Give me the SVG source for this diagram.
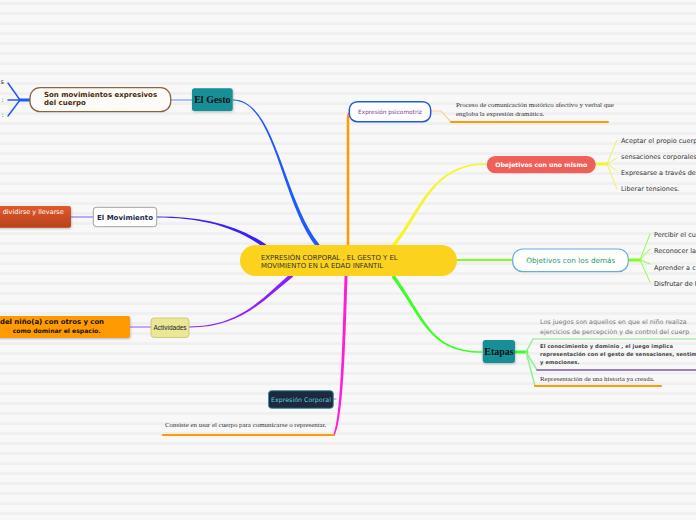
<svg xmlns="http://www.w3.org/2000/svg" width="696" height="520" viewBox="0 0 696 520">
<defs>
<pattern id="bg" width="10" height="10" patternUnits="userSpaceOnUse" y="2">
<rect width="10" height="10" fill="#f8f8f8"/>
<rect width="10" height="3" fill="#f0f0f0"/>
</pattern>
<linearGradient id="red" x1="0" y1="0" x2="0" y2="1">
<stop offset="0" stop-color="#e05a2c"/>
<stop offset="1" stop-color="#b8421c"/>
</linearGradient>
<filter id="sh" x="-10%" y="-20%" width="120%" height="150%">
<feDropShadow dx="0.5" dy="1" stdDeviation="0.8" flood-color="#000" flood-opacity="0.25"/>
</filter>
</defs>
<style>
.s{font-family:"DejaVu Sans",Verdana,sans-serif}
.sr{font-family:"Liberation Serif","Times New Roman",serif}
.ar{font-family:"Liberation Sans",Arial,sans-serif}
.it{font-size:6.5px;fill:#333}
.ln{fill:none;stroke-linecap:round}
</style>
<rect width="696" height="520" fill="url(#bg)"/>

<g id="connectors">
<path d="M233,99.4 C275.5,99.2 283.2,199.1 319.6,244.8 L316.4,247.2 C280.8,200.9 274.5,100.8 233,100.6 Z" fill="#1f5aff"/>
<path d="M157,216.5 C200,216.3 235.7,224.1 266.2,244.4 L263.9,247.6 C234.3,225.9 200,217.7 157,217.5 Z" fill="#3a1fff"/>
<path d="M189,326.5 C240,326.3 261.2,299.1 290.7,273.5 L293.3,276.5 C262.8,300.9 240,327.7 189,327.5 Z" fill="#8a1fff"/>
<path d="M394.3,247.2 C421.2,216 430.5,164.8 486,164.8 L486,163.3 C429.5,163.2 418.8,214 391.7,244.9 Z" fill="#f5f52a"/>
<path d="M394.4,275 C426.2,319.2 430.5,351.2 482,351.3 L482,352.8 C429.5,352.8 423.8,320.8 391.6,277 Z" fill="#3cff28"/>
<path d="M347.5,276 C345.5,340 343.3,420 334.7,435.3 L333.3,434.7 C340.7,420 342.5,340 344.5,276 Z" fill="#ff1ed2"/>
<path class="ln" d="M348,246 L348,118 Q348,113 351,112" stroke="#ff9a00" stroke-width="2.5"/>
<path class="ln" d="M457,260 L513,260" stroke="#80ff1a" stroke-width="2"/>

<path class="ln" d="M171,100 L192,100" stroke="#a8c0ff" stroke-width="2"/>
<path class="ln" d="M71,217 L93,217" stroke="#b8a8ff" stroke-width="2"/>
<path class="ln" d="M130,327 L151,327" stroke="#c8a4ff" stroke-width="2"/>
<path class="ln" d="M333,399 L336,399" stroke="#c8a0e8" stroke-width="1.5"/>
<path class="ln" d="M430,111 L441,111 L451,122" stroke="#ffd090" stroke-width="1.2"/>

<path class="ln" d="M20,100 L30,100" stroke="#1f5aff" stroke-width="3"/>
<path class="ln" d="M20,100 L8,83 M20,100 L8,100 M20,100 L8,116" stroke="#1f5aff" stroke-width="1.5"/>

<path class="ln" d="M596,164 L607,164" stroke="#f5f52a" stroke-width="3"/>
<path class="ln" d="M607,164 L617,140 M607,164 L617,158 M607,164 L617,171 M607,164 L617,189" stroke="#f0f060" stroke-width="1"/>

<path class="ln" d="M628,260 L640,260" stroke="#80ff1a" stroke-width="3"/>
<path class="ln" d="M640,260 L650,234 M640,260 L650,249 M640,260 L650,264 M640,260 L650,282" stroke="#90ff40" stroke-width="1"/>

<path class="ln" d="M515,352 L527,352" stroke="#3cff28" stroke-width="3"/>
<path class="ln" d="M526,352 L533,339 M526,352 L537,370 M526,352 L535,386" stroke="#90f090" stroke-width="1.5"/>

<path class="ln" d="M451,122 L608,122" stroke="#ff9a00" stroke-width="2"/>
<path class="ln" d="M163,435 L334,435" stroke="#ff9a00" stroke-width="2"/>
<path class="ln" d="M533,339 L696,339" stroke="#b0ecb0" stroke-width="1.5"/>
<path class="ln" d="M537,370 L696,370" stroke="#7a58a8" stroke-width="1.5"/>
<path class="ln" d="M535,386 L661,386" stroke="#ff9a00" stroke-width="2"/>
</g>

<g id="central">
<rect x="240" y="245" width="217" height="31" rx="15.5" fill="#fbd31e"/>
<text class="s" font-size="6.9" fill="#333"><tspan x="261" y="260.3">EXPRESIÓN CORPORAL , EL GESTO Y EL</tspan><tspan x="261" y="267.7">MOVIMIENTO EN LA EDAD INFANTIL</tspan></text>
</g>

<g id="el-gesto">
<rect x="192" y="88.3" width="40.7" height="22.7" rx="2.5" fill="#148f96" filter="url(#sh)"/>
<text class="sr" x="212.4" y="102.7" font-size="10" font-weight="bold" fill="#111" text-anchor="middle">El Gesto</text>
</g>

<g id="son-movimientos">
<rect x="30" y="87.7" width="140.7" height="24" rx="10" fill="#fdfbf7" stroke="#8a6542" stroke-width="1.3"/>
<text class="s" font-size="7" font-weight="bold" fill="#4a2a0c"><tspan x="44" y="97.3">Son movimientos expresivos</tspan><tspan x="44" y="105.3">del cuerpo</tspan></text>
</g>

<g id="gesto-children" class="s it">
<text x="4" y="84.3" text-anchor="end">s</text>
<text x="3.6" y="101.7" text-anchor="end">:</text>
<text x="3.6" y="116.7" text-anchor="end">:</text>
</g>

<g id="el-movimiento">
<rect x="93.3" y="207.3" width="63.4" height="19.4" rx="3" fill="#fff" stroke="#a0a0a0" stroke-width="1"/>
<text class="s" x="125" y="220" font-size="7" font-weight="bold" fill="#1a2a50" text-anchor="middle">El Movimiento</text>
</g>

<g id="dividirse">
<rect x="-4" y="206" width="75" height="21.7" rx="2" fill="url(#red)" filter="url(#sh)"/>
<text class="s" x="2.7" y="214" font-size="6.5" fill="#fff">dividirse y llevarse</text>
</g>

<g id="actividades">
<rect x="151" y="318" width="38" height="19.5" rx="3" fill="#eae896" stroke="#c8c266" stroke-width="0.8"/>
<text class="ar" x="170" y="330" font-size="6.5" fill="#222" text-anchor="middle">Actividades</text>
</g>

<g id="dominar">
<rect x="-4" y="316" width="134" height="22" rx="2" fill="#ff9a00" filter="url(#sh)"/>
<text class="s" font-weight="bold" fill="#111"><tspan x="0" y="324.3" font-size="6.9">del niño(a) con otros y con</tspan><tspan x="12.7" y="333" font-size="6.1">como dominar el espacio.</tspan></text>
</g>

<g id="expresion-corporal">
<rect x="268.5" y="390.7" width="64.8" height="17.6" rx="3" fill="#1e2840" stroke="#3a9494" stroke-width="1"/>
<text class="s" x="301" y="401.7" font-size="6.3" fill="#5ad4d4" text-anchor="middle">Expresión Corporal</text>
</g>

<g id="consiste">
<text class="sr" x="165" y="426.7" font-size="6.9" fill="#333">Consiste en usar el cuerpo para comunicarse o representar.</text>
</g>

<g id="expresion-psicomotriz">
<rect x="349.3" y="101.7" width="81.4" height="20" rx="8" fill="#fff" stroke="#1f5adf" stroke-width="1.5"/>
<text class="s" x="390" y="113.5" font-size="5.8" fill="#7a3a9a" text-anchor="middle">Expresión psicomotriz</text>
</g>

<g id="proceso">
<text class="sr" font-size="6.95" fill="#333"><tspan x="456" y="107.3">Proceso de comunicación motórico afectivo y verbal que</tspan><tspan x="456" y="115.7">engloba la expresión dramática.</tspan></text>
</g>

<g id="objetivos-uno-mismo">
<rect x="486.7" y="156" width="109" height="17.3" rx="8.6" fill="#f0605a"/>
<text class="s" x="541.2" y="166.5" font-size="6.2" font-weight="bold" fill="#fff" text-anchor="middle">Obejetivos con uno mismo</text>
</g>

<g id="uno-mismo-children" class="s it">
<text x="621" y="142.5">Aceptar el propio cuerp</text>
<text x="621" y="158.5">sensaciones corporales</text>
<text x="621" y="174.5">Expresarse a través de</text>
<text x="621" y="191">Liberar tensiones.</text>
</g>

<g id="objetivos-demas">
<rect x="512.7" y="249" width="115.6" height="22.7" rx="10" fill="#fff" stroke="#6aaae0" stroke-width="1.2"/>
<text class="s" x="570.8" y="262.8" font-size="7.3" fill="#1aa060" text-anchor="middle">Objetivos con los demás</text>
</g>

<g id="demas-children" class="s it">
<text x="654" y="237.3">Percibir el cu</text>
<text x="654" y="253.3">Reconocer la</text>
<text x="654" y="270">Aprender a c</text>
<text x="654" y="286">Disfrutar de l</text>
</g>

<g id="etapas">
<rect x="482.7" y="340" width="32.3" height="23" rx="3" fill="#148f96" filter="url(#sh)"/>
<text class="sr" x="499" y="355" font-size="10" font-weight="bold" fill="#111" text-anchor="middle">Etapas</text>
</g>

<g id="etapas-children">
<text class="s" font-size="6.4" fill="#777"><tspan x="540" y="324.3">Los juegos son aquellos en que el niño realiza</tspan><tspan x="540" y="333.5">ejercicios de percepción y de control del cuerp</tspan></text>
<text class="s" font-size="5.2" font-weight="bold" fill="#444" letter-spacing="0.1"><tspan x="540" y="348.3">El conocimiento y dominio , el juego implica</tspan><tspan x="540" y="356.2">representación con el gesto de sensaciones, sentim</tspan><tspan x="540" y="364.2">y emociones.</tspan></text>
<text class="sr" x="540" y="381" font-size="6.9" fill="#333">Representación de una historia ya creada.</text>
</g>
</svg>
